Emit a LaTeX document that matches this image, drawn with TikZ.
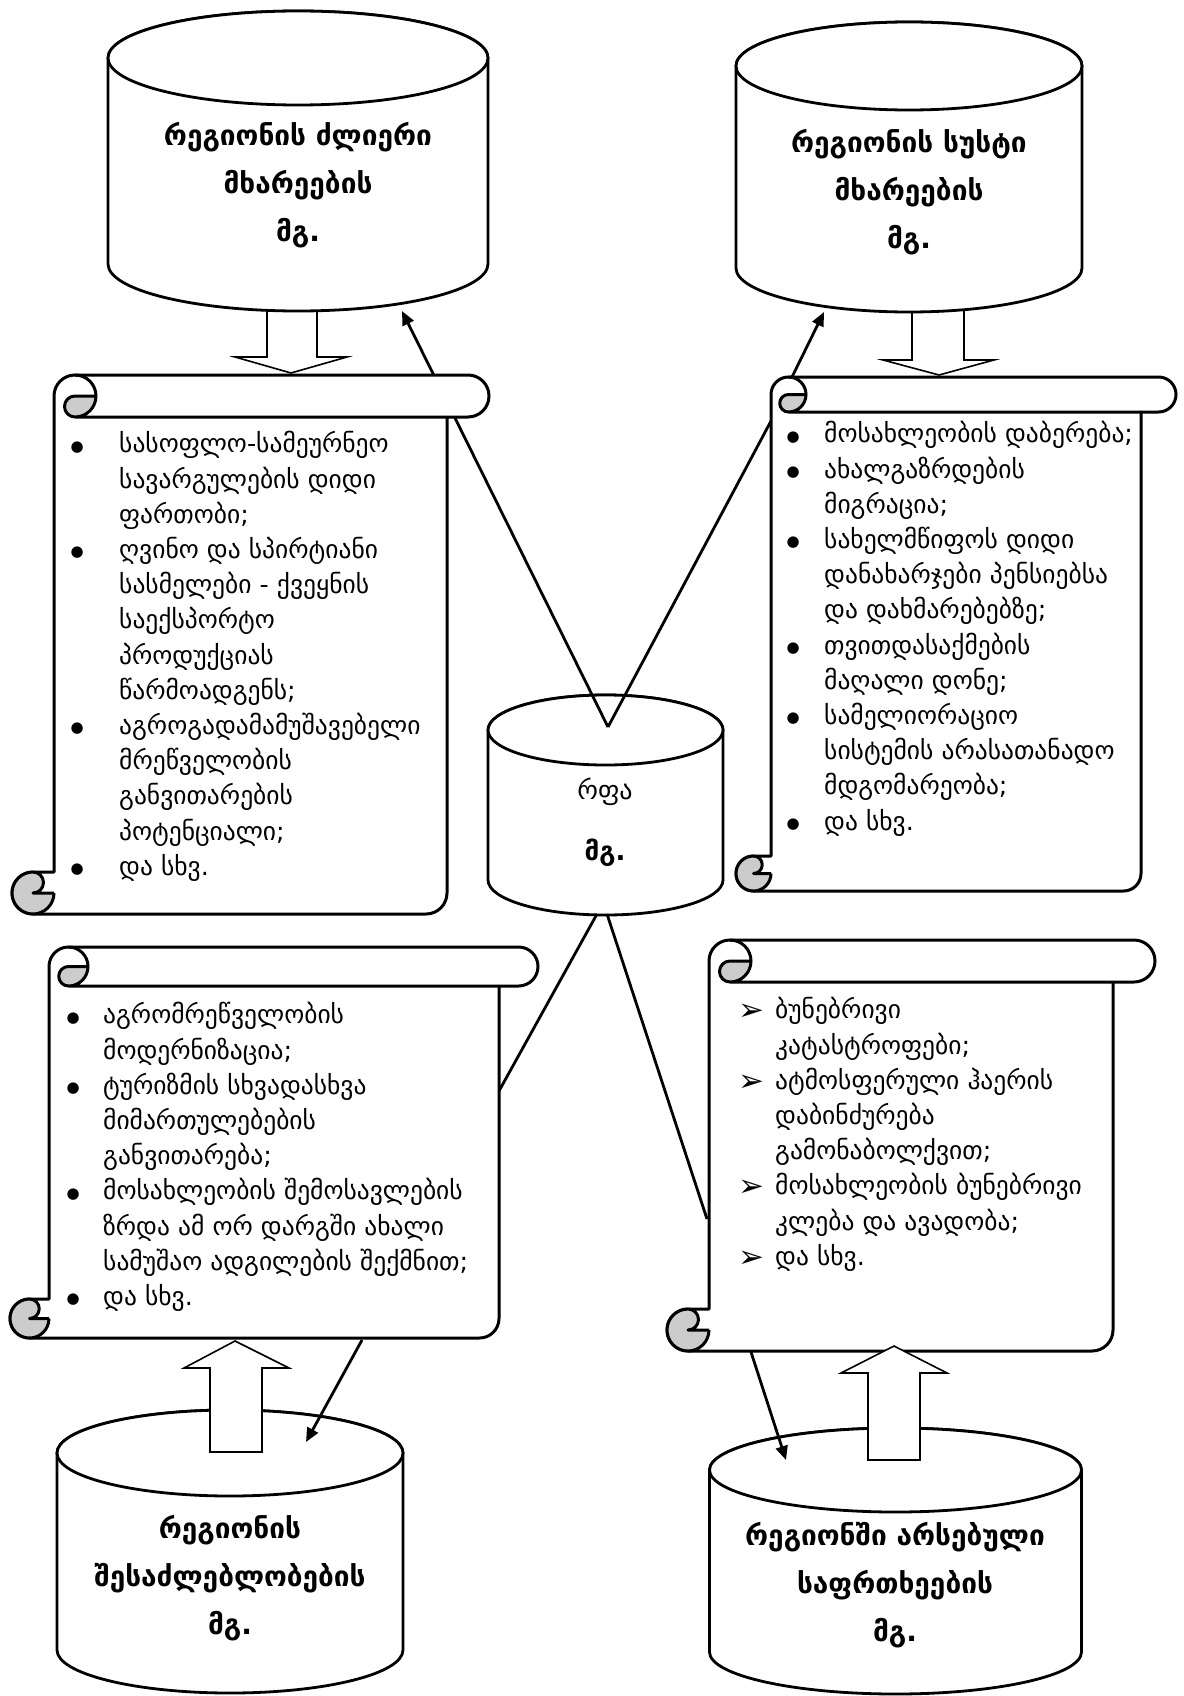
\documentclass[tikz,border=0pt]{standalone}
\usepackage{fontspec}
\setmainfont{DejaVu Sans}
\usetikzlibrary{arrows.meta}
\definecolor{curl}{gray}{0.8}

\newcommand{\can}[5]{%
  \filldraw[cyl] (#1-#2,#3) -- (#1-#2,#4) arc[start angle=180,end angle=0,x radius=#2,y radius=#5]
    -- (#1+#2,#3) arc[start angle=0,end angle=-180,x radius=#2,y radius=#5] -- cycle;
  \draw[cyl] (#1,#3) ellipse[x radius=#2,y radius=#5];}

\newcommand{\vscroll}[5]{%
  \pgfmathsetmacro{\scw}{#3-#1}%
  \pgfmathsetmacro{\sch}{#4-#2}%
  \pgfmathsetmacro{\sca}{#5}%
  \pgfmathsetmacro{\scb}{#5/2}%
  \pgfmathsetmacro{\scq}{#5/4}%
  \begin{scope}[shift={(#1,#2)}]
    \filldraw[scrollline,fill=white] (\sca,\sch-\sca) -- (\sca,\scb) arc[start angle=180,delta angle=90,radius=\scb]
      -- (\scw-\scb,0) arc[start angle=270,delta angle=180,radius=\scb] -- (\scw-\sca,\sca)
      -- (\scw-\sca,\sch-\scb) arc[start angle=0,delta angle=90,radius=\scb]
      -- (\scb,\sch) arc[start angle=90,delta angle=180,radius=\scb] -- cycle;
    \fill[curl] (2*\sca,\scb) arc[start angle=0,delta angle=90,radius=\scb]
      arc[start angle=90,delta angle=180,radius=\scq] -- cycle;
    \fill[curl] (\sca,\sch-\scb) arc[start angle=0,delta angle=270,radius=\scb]
      arc[start angle=270,delta angle=180,radius=\scq] -- cycle;
    \draw[scrollline] (\sca+\scb,0) arc[start angle=270,delta angle=180,radius=\scb]
      arc[start angle=90,delta angle=180,radius=\scq] -- (2*\sca,\scb)
      (\scw-\sca,\sca) -- (\sca+\scb,\sca)
      (\scb,\sch-\sca) arc[start angle=270,delta angle=180,radius=\scq] -- (\sca,\sch-\scb)
      (\sca,\sch-\scb) arc[start angle=0,delta angle=90,radius=\scb]
      arc[start angle=90,delta angle=180,radius=\scb];
  \end{scope}}

\newcommand{\itm}{\makebox[0pt]{\raisebox{1.5pt}{\fontsize{15}{18}\selectfont ●}}}
\newcommand{\arr}{\makebox[0pt]{\raisebox{-2pt}{\fontsize{31}{35}\selectfont ➢}}}

\begin{document}
\begin{tikzpicture}[x=1pt,y=-1pt,
  cyl/.style={line width=2.8pt,fill=white},
  scrollline/.style={line width=3pt,line join=round},
  conn/.style={line width=2.8pt},
  arrowed/.style={-{Triangle[length=14pt,width=12pt]}},
  hollow/.style={line width=1.6pt,fill=white,line join=miter},
  title/.style={font=\bfseries\fontsize{28}{48}\selectfont,align=center},
  listtxt/.style={font=\fontsize{25.5}{35.2}\selectfont,inner sep=0pt,anchor=north west}]
\useasboundingbox (0,0) rectangle (1183,1696);

\can{605.5}{117.5}{730}{880}{35}

\coordinate (vtip) at (608,727);
\coordinate (strongin) at (402,311);
\coordinate (weakedge) at (771,421);
\coordinate (rfabl) at (597,914);
\coordinate (rfabr) at (607,914);
\coordinate (oppedge) at (499,1091);
\coordinate (threatedge) at (707,1219);
\draw[conn,arrowed] (vtip) -- (strongin);
\draw[conn] (vtip) -- (weakedge);
\draw[conn] (rfabl) -- (oppedge);
\draw[conn] (rfabr) -- (threatedge);

\vscroll{12}{375}{489}{914}{42}
\vscroll{736}{377}{1176}{891}{35}
\vscroll{10}{947}{538}{1338}{39}
\vscroll{667}{940}{1155}{1351}{42}

\draw[hollow] (267,300) -- (267,357) -- (235,357) -- (291,373) -- (347,357) -- (317,357) -- (317,300) -- cycle;
\draw[hollow] (912,300) -- (912,360) -- (883,360) -- (939,375) -- (994,360) -- (964,360) -- (964,300) -- cycle;

\can{298}{190}{58}{264}{47}
\can{909}{173}{66}{268}{44}
\can{230}{173}{1453}{1650}{43}
\can{895.5}{186}{1470}{1652}{42}

\draw[hollow] (210,1452) -- (210,1368) -- (184,1368) -- (235,1341) -- (289,1368) -- (262,1368) -- (262,1452) -- cycle;
\draw[hollow] (868,1460) -- (868,1373) -- (841,1373) -- (894,1346) -- (947,1373) -- (920,1373) -- (920,1460) -- cycle;

\coordinate (weakout) at (792,377);
\coordinate (weakin) at (824,312);
\coordinate (oppout) at (362,1340);
\coordinate (oppin) at (306,1442);
\coordinate (threatout) at (751,1352);
\coordinate (threatin) at (786,1460);
\draw[conn,arrowed] (weakout) -- (weakin);
\draw[conn,arrowed] (oppout) -- (oppin);
\draw[conn,arrowed] (threatout) -- (threatin);

\node[title] (strong) at (298,185) {რეგიონის ძლიერი\\მხარეების\\მგ.};
\node[title] (weak) at (909,192) {რეგიონის სუსტი\\მხარეების\\მგ.};
\node[title] (opp) at (230,1578) {რეგიონის\\შესაძლებლობების\\მგ.};
\node[title] (threat) at (895,1585) {რეგიონში არსებული\\საფრთხეების\\მგ.};
\node[font=\fontsize{26}{61}\selectfont,align=center] (rfa) at (605,822) {რფა\\\textbf{მგ.}};

\node[listtxt] (strongl) at (77,428) {\begin{tabular}{@{}l@{\hspace{42pt}}l@{}}
\itm & სასოფლო-სამეურნეო\\
 & სავარგულების დიდი\\
 & ფართობი;\\
\itm & ღვინო და სპირტიანი\\
 & სასმელები - ქვეყნის\\
 & საექსპორტო\\
 & პროდუქციას\\
 & წარმოადგენს;\\
\itm & აგროგადამამუშავებელი\\
 & მრეწველობის\\
 & განვითარების\\
 & პოტენციალი;\\
\itm & და სხვ.
\end{tabular}};
\node[listtxt] (weakl) at (793,418) {\begin{tabular}{@{}l@{\hspace{31pt}}l@{}}
\itm & მოსახლეობის დაბერება;\\
\itm & ახალგაზრდების\\
 & მიგრაცია;\\
\itm & სახელმწიფოს დიდი\\
 & დანახარჯები პენსიებსა\\
 & და დახმარებებზე;\\
\itm & თვითდასაქმების\\
 & მაღალი დონე;\\
\itm & სამელიორაციო\\
 & სისტემის არასათანადო\\
 & მდგომარეობა;\\
\itm & და სხვ.
\end{tabular}};
\node[listtxt] (oppl) at (73,999) {\begin{tabular}{@{}l@{\hspace{30pt}}l@{}}
\itm & აგრომრეწველობის\\
 & მოდერნიზაცია;\\
\itm & ტურიზმის სხვადასხვა\\
 & მიმართულებების\\
 & განვითარება;\\
\itm & მოსახლეობის შემოსავლების\\
 & ზრდა ამ ორ დარგში ახალი\\
 & სამუშაო ადგილების შექმნით;\\
\itm & და სხვ.
\end{tabular}};
\node[listtxt] (threatl) at (751,994) {\begin{tabular}{@{}l@{\hspace{24pt}}l@{}}
\arr & ბუნებრივი\\
 & კატასტროფები;\\
\arr & ატმოსფერული ჰაერის\\
 & დაბინძურება\\
 & გამონაბოლქვით;\\
\arr & მოსახლეობის ბუნებრივი\\
 & კლება და ავადობა;\\
\arr & და სხვ.
\end{tabular}};
\end{tikzpicture}
\end{document}
